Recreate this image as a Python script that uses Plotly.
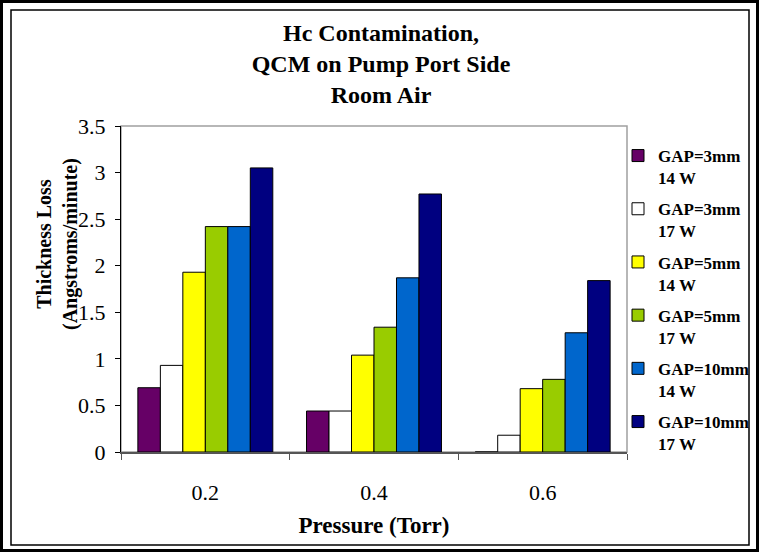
import plotly.graph_objects as go

W, H = 759, 552
ML, MR, MT, MB = 121, 132, 126, 100

categories = ["0.2", "0.4", "0.6"]
series_names = ["GAP=3mm<br>14 W", "GAP=3mm<br>17 W", "GAP=5mm<br>14 W",
                "GAP=5mm<br>17 W", "GAP=10mm<br>14 W", "GAP=10mm<br>17 W"]
gap3_14 = [0.69, 0.44, 0.0]
gap3_17 = [0.93, 0.44, 0.18]
gap5_14 = [1.93, 1.04, 0.68]
gap5_17 = [2.42, 1.34, 0.78]
gap10_14 = [2.42, 1.87, 1.28]
gap10_17 = [3.05, 2.77, 1.84]
series_values = [gap3_14, gap3_17, gap5_14, gap5_17, gap10_14, gap10_17]
colors = ["#660066", "#FFFFFF", "#FFFF00", "#99CC00", "#0066CC", "#000080"]
y_ticks = [0, 0.5, 1, 1.5, 2, 2.5, 3, 3.5]

FONT = "Liberation Serif, Times New Roman, serif"

fig = go.Figure()
for i, (name, vals, col) in enumerate(zip(series_names, series_values, colors)):
    fig.add_trace(go.Bar(
        x=categories, y=vals, name=name, legendgroup=f"g{i}",
        marker=dict(color=col, line=dict(color="black", width=1)),
    ))

pw = W - ML - MR
ph = H - MT - MB
def px_x(p):
    return (p - ML) / pw
def px_y(p):
    return (H - MB - p) / ph

shapes = [
    # outer frame
    dict(type="rect", xref="paper", yref="paper", x0=px_x(1.5), x1=px_x(757.5),
         y0=px_y(550.5), y1=px_y(1.5), line=dict(color="black", width=3), layer="below"),
    # inner chart-area frame
    dict(type="rect", xref="paper", yref="paper", x0=px_x(11), x1=px_x(749),
         y0=px_y(545), y1=px_y(10), line=dict(color="black", width=1.5), layer="below"),
    # plot area border
    dict(type="rect", xref="paper", yref="paper", x0=0, x1=1, y0=0, y1=1,
         line=dict(color="#A0A0A0", width=1.5), layer="below"),
]

annotations = [
    dict(text="<b>Thickness Loss<br>(Angstroms/minute)</b>", textangle=-90,
         xref="paper", yref="paper", x=px_x(57), y=px_y(244),
         xanchor="center", yanchor="middle", showarrow=False,
         font=dict(size=20, family=FONT, color="black")),
]

fig.update_layout(
    width=W, height=H,
    margin=dict(l=ML, r=MR, t=MT, b=MB, autoexpand=False),
    paper_bgcolor="white", plot_bgcolor="white",
    font=dict(family=FONT, color="black"),
    title=dict(
        text="<b>Hc Contamination,<br>QCM on Pump Port Side<br>Room Air</b>",
        x=0.502, xref="container", xanchor="center",
        y=1 - 41 / H, yref="container", yanchor="top",
        font=dict(size=24, family=FONT),
    ),
    barmode="group", bargap=0.2, bargroupgap=0,
    showlegend=True,
    legend=dict(
        x=px_x(618), y=px_y(138), xanchor="left", yanchor="top",
        font=dict(size=17, family=FONT, weight="bold"),
        valign="top", tracegroupgap=6, itemwidth=30,
        bgcolor="rgba(0,0,0,0)", maxheight=520,
    ),
    xaxis=dict(
        type="category", showline=True, linecolor="#555555", linewidth=1.5,
        ticks="outside", tickson="boundaries", ticklen=6, tickcolor="#555555",
        ticklabelstandoff=20, tickfont=dict(size=22, family=FONT),
        title=dict(text="<b>Pressure (Torr)</b>", font=dict(size=23, family=FONT), standoff=13),
        showgrid=False,
    ),
    yaxis=dict(
        range=[0, 3.5], tickvals=y_ticks, ticktext=[f"{v:g}" for v in y_ticks],
        showline=True, linecolor="black", linewidth=1.2,
        ticks="outside", ticklen=5, tickcolor="black",
        ticklabelstandoff=5, tickfont=dict(size=22, family=FONT),
        showgrid=False, zeroline=False,
    ),
    yaxis2=dict(
        overlaying="y", side="left", matches="y", range=[0, 3.5],
        tickvals=y_ticks, ticks="inside", ticklen=5, tickcolor="black",
        showticklabels=False, showline=False, showgrid=False, zeroline=False,
    ),
    shapes=shapes,
    annotations=annotations,
)

fig.write_html("out.html")
